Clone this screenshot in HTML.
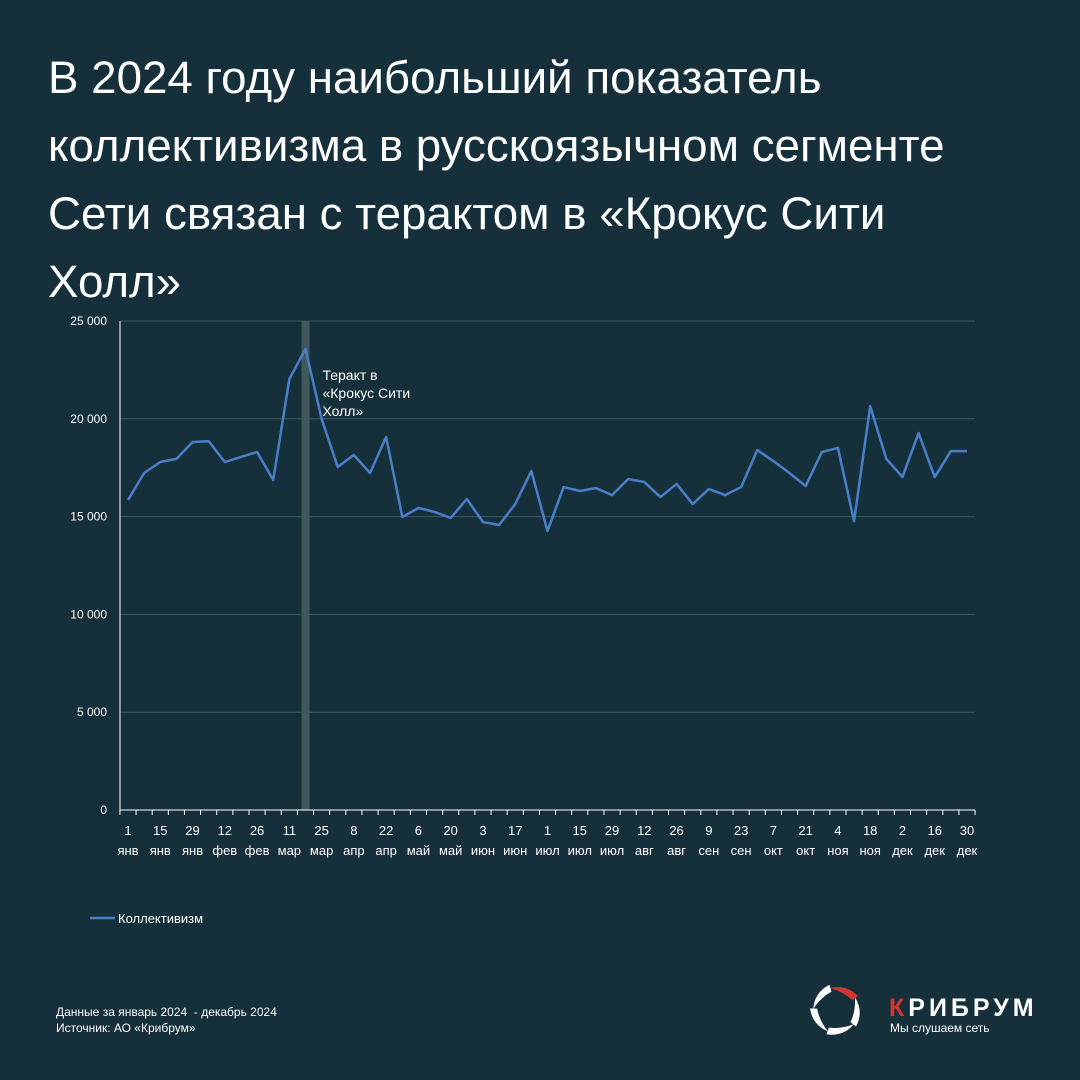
<!DOCTYPE html>
<html><head><meta charset="utf-8">
<style>
body{margin:0;background:#15303a;}
#root{position:relative;width:1080px;height:1080px;background:#15303a;font-family:"Liberation Sans",sans-serif;color:#fff;overflow:hidden}
h1{position:absolute;left:48px;top:44px;margin:0;font-weight:400;font-size:45.7px;line-height:68px;width:1030px;white-space:nowrap}
.foot{position:absolute;left:56px;top:1004px;font-size:12px;line-height:16px;color:#fff}
</style></head><body>
<div id="root">
<h1>В 2024 году наибольший показатель<br>коллективизма в русскоязычном сегменте<br>Сети связан с терактом в «Крокус Сити<br>Холл»</h1>
<svg id="chart" width="1080" height="1080" style="position:absolute;left:0;top:0"></svg>
<div class="foot">Данные за январь 2024&nbsp; - декабрь 2024<br>Источник: АО «Крибрум»</div>
<svg style="position:absolute;left:806px;top:978px" width="60" height="64" viewBox="0 0 60 64">
<g transform="translate(30,32)">
<path d="M-6,-22 Q10,-26 22,-14 L16,-10 Q8,-18 -6,-22Z" fill="#d63333"/>
<g fill="#fff">
<path d="M-6,-22 Q10,-26 22,-14 L16,-10 Q8,-18 -6,-22Z" transform="rotate(72)"/>
<path d="M-6,-22 Q10,-26 22,-14 L16,-10 Q8,-18 -6,-22Z" transform="rotate(144)"/>
<path d="M-6,-22 Q10,-26 22,-14 L16,-10 Q8,-18 -6,-22Z" transform="rotate(216)"/>
<path d="M-6,-22 Q10,-26 22,-14 L16,-10 Q8,-18 -6,-22Z" transform="rotate(288)"/>
</g></g></svg>
<div style="position:absolute;left:889px;top:994px;font-size:25px;font-weight:700;letter-spacing:4px"><span style="color:#d63333">К</span>РИБРУМ</div>
<div style="position:absolute;left:890px;top:1021px;font-size:12px">Мы слушаем сеть</div>
</div>
<script>
const values=[15850,17230,17790,17950,18810,18860,17790,18050,18300,16870,22030,23570,20000,17540,18150,17230,19070,14980,15440,15240,14930,15900,14720,14570,15640,17330,14260,16510,16310,16460,16100,16920,16770,16000,16670,15640,16410,16100,16510,18400,17840,17230,16560,18300,18510,14770,20650,17950,17020,19270,17020,18350,18350];
const xLabelsTop=["1","15","29","12","26","11","25","8","22","6","20","3","17","1","15","29","12","26","9","23","7","21","4","18","2","16","30"];
const xLabelsBot=["янв","янв","янв","фев","фев","мар","мар","апр","апр","май","май","июн","июн","июл","июл","июл","авг","авг","сен","сен","окт","окт","ноя","ноя","дек","дек","дек"];
const yTicks=[0,5000,10000,15000,20000,25000];
const yTickLabels=["0","5 000","10 000","15 000","20 000","25 000"];
const eventIndex=11;
const eventLabel=["Теракт в","«Крокус Сити","Холл»"];
const seriesName="Коллективизм";

const NS="http://www.w3.org/2000/svg";
const svg=document.getElementById('chart');
const L=120,R=975,T=321,B=810,x0=128,step=(967-128)/52;
const X=i=>x0+i*step;
const Y=v=>B-(v/25000)*(B-T);
function mk(t,a,p){const e=document.createElementNS(NS,t);for(const k in a)e.setAttribute(k,a[k]);(p||svg).appendChild(e);return e;}
yTicks.forEach((v,i)=>{
  if(v>0){const g=mk('line',{x1:L,x2:R,y1:Y(v),y2:Y(v),stroke:'#3b5a62','stroke-width':1});
  
  }
  const t=mk('text',{x:107,y:Y(v)+4,'text-anchor':'end','font-size':12,fill:'#fff','font-family':'Liberation Sans'});
  t.textContent=yTickLabels[i];
  
  
});
const band=mk('rect',{x:X(eventIndex)-4,y:T,width:8,height:B-T,fill:'#42595c'});


const ax=mk('line',{x1:L,x2:L,y1:T,y2:B,stroke:'#fff','stroke-width':1});


const xa=mk('line',{x1:L,x2:R,y1:B,y2:B,stroke:'#fff','stroke-width':1});


for(let i=0;i<=53;i++){const tk=mk('line',{x1:X(i)-step/2,x2:X(i)-step/2,y1:B,y2:B+5,stroke:'#fff'});

}
xLabelsTop.forEach((s,j)=>{
  const t=mk('text',{x:X(j*2),y:835,'text-anchor':'middle','font-size':13,fill:'#fff','font-family':'Liberation Sans'});
  t.textContent=s;
  
  
  const t2=mk('text',{x:X(j*2),y:855,'text-anchor':'middle','font-size':13,fill:'#fff','font-family':'Liberation Sans'});
  t2.textContent=xLabelsBot[j];
  
  
});
const line=mk('polyline',{points:values.map((v,i)=>X(i)+','+Y(v)).join(' '),fill:'none',stroke:'#4a7fc8','stroke-width':2.5,'stroke-linejoin':'round'});


eventLabel.forEach((s,k)=>{
  const t=mk('text',{x:X(eventIndex)+17,y:380+k*18,'font-size':14,fill:'#fff','font-family':'Liberation Sans'});
  t.textContent=s;
  
  
});
const ll=mk('line',{x1:90,x2:115,y1:918,y2:918,stroke:'#4a7fc8','stroke-width':2.5});


const lt=mk('text',{x:118,y:923,'font-size':13,fill:'#fff','font-family':'Liberation Sans'});
lt.textContent=seriesName;


</script>
</body></html>
